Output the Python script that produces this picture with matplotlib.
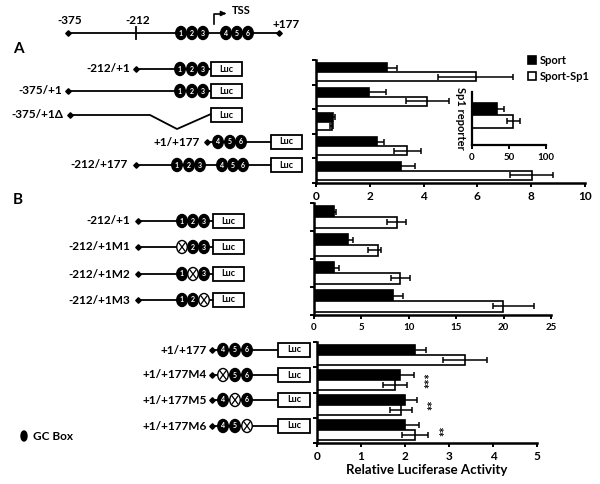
import numpy as np
import matplotlib.pyplot as plt
from matplotlib.patches import Ellipse, Rectangle

plt.rcParams['font.family'] = ['Lato', 'DejaVu Sans']
plt.rcParams['font.weight'] = 'bold'
plt.rcParams['axes.labelweight'] = 'bold'

# ---- data ----
# Panel A (deletion constructs)
a_constructs = ['-212/+1', '-375/+1', '-375/+1\u0394', '+1/+177', '-212/+177']
a_sport = [2.65, 1.97, 0.62, 2.26, 3.17]
a_sport_err = [0.37, 0.65, 0.10, 0.25, 0.50]
a_sp1 = [5.93, 4.14, 0.58, 3.40, 8.02]
a_sp1_err = [1.40, 0.80, 0.06, 0.50, 0.80]

# inset: Sp1 reporter
ins_sport = [33.6]
ins_sport_err = [9.0]
ins_sp1 = [56.0]
ins_sp1_err = [8.5]

# Panel B, GC boxes 1-3 mutants
b1_constructs = ['-212/+1', '-212/+1M1', '-212/+1M2', '-212/+1M3']
b1_sport = [2.1, 3.55, 2.14, 8.35]
b1_sport_err = [0.2, 0.6, 0.5, 1.05]
b1_sp1 = [8.77, 6.77, 9.12, 19.9]
b1_sp1_err_lo = [1.1, 1.05, 1.05, 1.0]
b1_sp1_err_hi = [0.9, 0.35, 1.0, 3.3]

# Panel B, GC boxes 4-6 mutants
b2_constructs = ['+1/+177', '+1/+177M4', '+1/+177M5', '+1/+177M6']
b2_sport = [2.23, 1.89, 2.0, 2.0]
b2_sport_err = [0.25, 0.31, 0.27, 0.31]
b2_sp1 = [3.36, 1.77, 1.91, 2.23]
b2_sp1_err = [0.5, 0.28, 0.25, 0.3]
b2_stars = ['', '***', '**', '**']

fig = plt.figure(figsize=(6, 4.84), dpi=100)

# ---- schematic drawn in pixel coordinates ----
dg = fig.add_axes([0, 0, 1, 1], zorder=0)
dg.set_xlim(0, 600)
dg.set_ylim(484, 0)
dg.axis('off')

LW = 1.3


def gc_box(x, y, num, mutated=False, w=10.5, h=13):
    dg.add_patch(Ellipse((x, y), w, h, fc='white' if mutated else 'black',
                         ec='black', lw=1.0, zorder=3))
    if mutated:
        dg.plot([x - 3, x + 3], [y - 4, y + 4], color='black', lw=0.9, zorder=4)
        dg.plot([x - 3, x + 3], [y + 4, y - 4], color='black', lw=0.9, zorder=4)
    elif num:
        dg.text(x, y, str(num), color='white', fontsize=5, ha='center',
                va='center', zorder=4)


def luc_box(x0, y, w=31, h=14):
    dg.add_patch(Rectangle((x0, y - h / 2), w, h, fc='white', ec='black',
                           lw=LW, zorder=3))
    dg.text(x0 + w / 2, y, 'Luc', fontsize=6.5, ha='center', va='center',
            zorder=4)


def construct(name, y, label_x, x_start, nums, xs, luc_x, luc_w=31,
              mutated=None, path=None):
    if path is None:
        dg.plot([x_start, luc_x], [y, y], color='black', lw=LW, zorder=2)
    else:
        dg.plot(path[0], path[1], color='black', lw=LW, zorder=2)
    dg.plot([x_start], [y], marker='D', ms=2.8, color='black', zorder=3)
    dg.text(label_x, y, name, fontsize=8.5, ha='right', va='center')
    for n, x in zip(nums, xs):
        gc_box(x, y, n, mutated == n)
    luc_box(luc_x, y, luc_w)


# promoter map
dg.plot([68, 279], [33, 33], color='black', lw=LW, zorder=2)
dg.plot([68, 279], [33, 33], ls='none', marker='D', ms=2.8, color='black')
dg.plot([136, 136], [27, 39], color='black', lw=LW)
dg.text(70, 21, '-375', fontsize=8.5, ha='center', va='center')
dg.text(138, 21, '-212', fontsize=8.5, ha='center', va='center')
dg.text(286, 25, '+177', fontsize=8.5, ha='center', va='center')
for n, x in zip(range(1, 7), [181, 192, 203, 226, 237, 248]):
    gc_box(x, 33, n)
dg.plot([213.5, 213.5, 222], [24, 13.5, 13.5], color='black', lw=1.2)
dg.annotate('', xy=(229, 13.5), xytext=(221, 13.5),
            arrowprops=dict(arrowstyle='-|>', color='black', lw=1.2,
                            mutation_scale=7))
dg.text(232, 10, 'TSS', fontsize=8, ha='left', va='center')

dg.text(18, 49, 'A', fontsize=11, ha='center', va='center')
dg.text(18, 200, 'B', fontsize=11, ha='center', va='center')

# panel A constructs
construct(a_constructs[0], 69, 130, 136, [1, 2, 3], [180, 192, 203], 211)
construct(a_constructs[1], 91, 62, 68, [1, 2, 3], [180, 192, 203], 211)
construct(a_constructs[2], 115, 63, 70, [], [], 211,
          path=([70, 150, 177, 211], [115, 115, 129, 114]))
construct(a_constructs[3], 142, 200, 207, [4, 5, 6], [218, 230, 241], 271)
construct(a_constructs[4], 165, 128, 136, [1, 2, 3, 4, 5, 6],
          [177, 189, 200, 222, 233, 243], 271)

# panel B constructs
for name, y, m in zip(b1_constructs, [221, 247, 274, 300], [None, 1, 2, 3]):
    construct(name, y, 130, 138, [1, 2, 3], [182, 193, 204], 213, mutated=m)
for name, y, m in zip(b2_constructs, [350, 375, 400, 426], [None, 4, 5, 6]):
    construct(name, y, 207, 212, [4, 5, 6], [223, 235, 247], 278, 32,
              mutated=m)

gc_box(24, 436, None, w=6, h=10)
dg.text(33, 436, 'GC Box', fontsize=8.5, ha='left', va='center')


# ---- bar charts ----
def px_axes(left, right, top, bottom):
    return fig.add_axes([left / 600, 1 - bottom / 484, (right - left) / 600,
                         (bottom - top) / 484], zorder=1)


def style_axes(ax, labelsize=8):
    ax.patch.set_visible(False)
    for s in ['top', 'right']:
        ax.spines[s].set_visible(False)
    for s in ['left', 'bottom']:
        ax.spines[s].set_linewidth(1.8)
    ax.tick_params(direction='out', length=3, width=1.4, labelsize=labelsize,
                   pad=3)
    for t in ax.get_xticklabels():
        t.set_fontweight('bold')


def bar_panel(ax, sport, sport_err, sp1, sp1_err, xmax, step, h=0.38,
              labelsize=8):
    n = len(sport)
    y = np.arange(n)
    ekw = dict(ecolor='black', elinewidth=1.1, capsize=2, capthick=1.1)
    ax.barh(y - h / 2, sport, height=h, color='black', edgecolor='black',
            lw=1.2, xerr=sport_err, error_kw=ekw, label='Sport')
    ax.barh(y + h / 2, sp1, height=h, color='white', edgecolor='black',
            lw=1.2, xerr=sp1_err, error_kw=ekw, label='Sport-Sp1')
    ax.set_ylim(n - 0.5, -0.5)
    ax.set_xlim(0, xmax)
    ax.set_xticks(np.arange(0, xmax + step / 2, step))
    ax.set_yticks(np.arange(n + 1) - 0.5)
    ax.set_yticklabels([])
    style_axes(ax, labelsize)


ax_a = px_axes(316, 585, 60, 183)
bar_panel(ax_a, a_sport, a_sport_err, a_sp1, a_sp1_err, 10, 2, h=0.36,
          labelsize=8.5)
ax_a.legend(loc='upper left', bbox_to_anchor=(528 / 600, 1 - 55 / 484),
            bbox_transform=fig.transFigure, frameon=False,
            prop=dict(size=8, weight='bold'),
            handlelength=0.75, handleheight=0.75, handletextpad=0.3,
            labelspacing=0.45, borderaxespad=0, borderpad=0)

ax_in = px_axes(472, 546, 92, 145)
ekw = dict(ecolor='black', elinewidth=1.1, capsize=2, capthick=1.1)
ax_in.barh([0.32], ins_sport, height=0.235, color='black', edgecolor='black',
           lw=1.2, xerr=ins_sport_err, error_kw=ekw)
ax_in.barh([0.555], ins_sp1, height=0.235, color='white', edgecolor='black',
           lw=1.2, xerr=ins_sp1_err, error_kw=ekw)
ax_in.set_ylim(1, 0)
ax_in.set_xlim(0, 100)
ax_in.set_xticks([0, 50, 100])
ax_in.set_yticks([])
style_axes(ax_in, 7)
ax_in.spines['left'].set_linewidth(1.6)
ax_in.spines['bottom'].set_linewidth(1.6)
ax_in.text(-0.15, 0.5, 'Sp1 reporter', transform=ax_in.transAxes,
           rotation=270, fontsize=8, ha='center', va='center')

ax_b1 = px_axes(314, 551, 203, 315)
bar_panel(ax_b1, b1_sport, b1_sport_err, b1_sp1,
          [b1_sp1_err_lo, b1_sp1_err_hi], 25, 5, labelsize=7)

ax_b2 = px_axes(317, 537, 342, 443)
bar_panel(ax_b2, b2_sport, b2_sport_err, b2_sp1, b2_sp1_err, 5, 1, h=0.4,
          labelsize=8.5)
ax_b2.set_xlabel('Relative Luciferase Activity', fontsize=9.5,
                 fontweight='bold', labelpad=1)
for i, s in enumerate(b2_stars):
    if s:
        top = max(b2_sport[i] + b2_sport_err[i], b2_sp1[i] + b2_sp1_err[i])
        ax_b2.text(top + 0.38, i, s, rotation=90, fontsize=9, ha='center',
                   va='center')

fig.savefig('out.png', dpi=100)
